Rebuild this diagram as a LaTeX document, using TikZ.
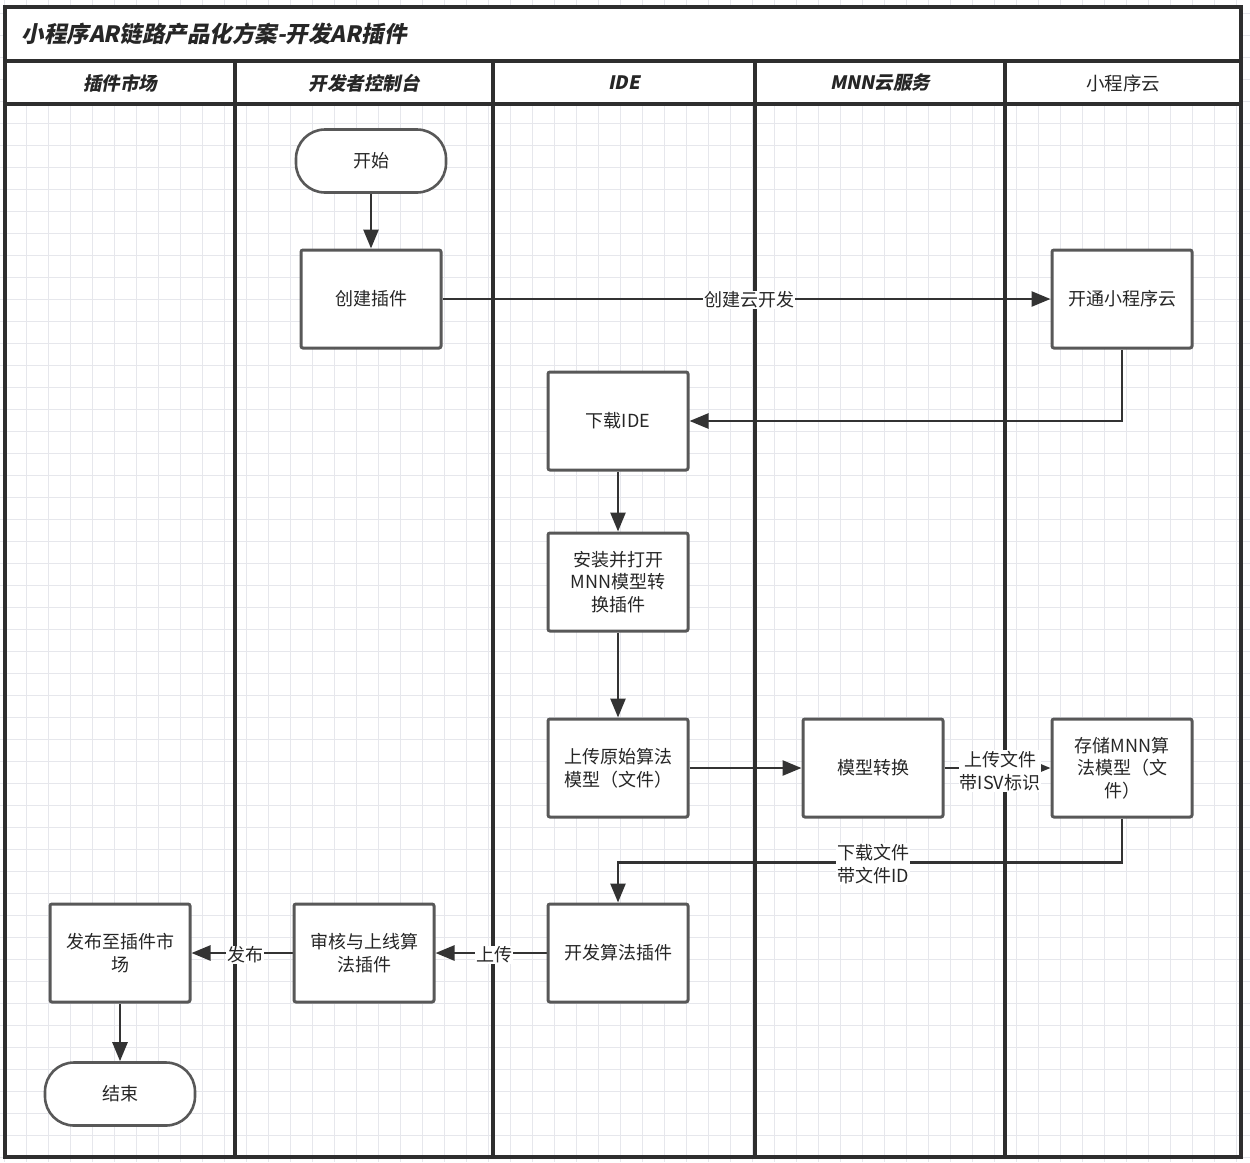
\documentclass[tikz,border=0pt]{standalone}
\usepackage{fontspec}
\setmainfont{Noto Sans CJK SC}
\newfontfamily\headfont[FakeSlant=0.2]{Noto Sans CJK SC}
\usetikzlibrary{arrows.meta}
\pgfdeclarelayer{gridlayer}
\pgfdeclarelayer{connlayer}
\pgfdeclarelayer{lanelayer}
\pgfsetlayers{gridlayer,connlayer,lanelayer,main}
\definecolor{gridc}{HTML}{E6E7EC}
\definecolor{lanec}{HTML}{2E2E2E}
\definecolor{boxc}{HTML}{585858}
\definecolor{connc}{HTML}{333333}
\tikzset{
  gridline/.style={draw=gridc,line width=1.3pt},
  laneline/.style={draw=lanec,line width=3.2pt},
  procbox/.style={draw=boxc,line width=3pt,fill=white,rounded corners=2pt,minimum width=140pt,minimum height=98pt,align=center,inner sep=2pt,font=\fontsize{18}{22.5}\selectfont,text=black!85},
  termbox/.style={draw=boxc,line width=2.6pt,fill=white,rounded corners=29pt,minimum width=150pt,minimum height=63pt,align=center,font=\fontsize{18}{22.5}\selectfont,text=black!85},
  conn/.style={draw=connc,line width=2.6pt,-{Triangle[length=19pt,width=15pt]}},
  lbl/.style={fill=white,inner sep=1pt,align=center,font=\fontsize{18}{22.5}\selectfont,text=black!85},
  headtxt/.style={font=\headfont\bfseries\fontsize{18.5}{22}\selectfont,text=black!85},
}
\begin{document}
\begin{tikzpicture}[x=1pt,y=-1pt]
\useasboundingbox (0,0) rectangle (1250,1162);
\begin{pgfonlayer}{gridlayer}
\fill[white] (0,0) rectangle (1250,1162);
\foreach \gx in {4.7,26.7,...,1250} \draw[gridline] (\gx,0) -- (\gx,1162);
\foreach \gy in {13.7,35.7,...,1162} \draw[gridline] (0,\gy) -- (1250,\gy);
\fill[white] (5,7) rectangle (1241,104);
\end{pgfonlayer}
\begin{pgfonlayer}{lanelayer}
\draw[laneline] (5,7) rectangle (1241,1157);
\draw[laneline] (5,61) -- (1241,61);
\draw[laneline] (5,104) -- (1241,104);
\foreach \lx in {235,493,755,1005} \draw[laneline] (\lx,61) -- (\lx,1157);
\end{pgfonlayer}
% title
\node[anchor=west,font=\headfont\bfseries\fontsize{22.5}{26}\selectfont,text=black!85] (title) at (18,34) {小程序AR链路产品化方案-开发AR插件};
% lane headers
\node[headtxt] (h1) at (120,83) {插件市场};
\node[headtxt] (h2) at (364,83) {开发者控制台};
\node[headtxt] (h3) at (624,83) {IDE};
\node[headtxt] (h4) at (880,83) {MNN云服务};
\node[font=\fontsize{18.5}{22}\selectfont,text=black!85] (h5) at (1123,83) {小程序云};
% nodes
\node[termbox] (start) at (371,161) {开始};
\node[procbox] (create) at (371,299) {创建插件};
\node[procbox] (open) at (1122,299) {开通小程序云};
\node[procbox] (dlide) at (618,421) {下载IDE};
\node[procbox] (install) at (618,582) {安装并打开\\MNN模型转\\换插件};
\node[procbox] (upload) at (618,768) {上传原始算法\\模型（文件）};
\node[procbox] (convert) at (873,768) {模型转换};
\node[procbox] (store) at (1122,768) {存储MNN算\\法模型（文\\件）};
\node[procbox] (dev) at (618,953) {开发算法插件};
\node[procbox] (review) at (364,953) {审核与上线算\\法插件};
\node[procbox] (publish) at (120,953) {发布至插件市\\场};
\node[termbox] (end) at (120,1094) {结束};
% connectors
\begin{pgfonlayer}{connlayer}
\draw[conn] (start) -- (create);
\draw[conn] (create) -- (open);
\draw[conn] (open.south) |- (dlide.east);
\draw[conn] (dlide) -- (install);
\draw[conn] (install) -- (upload);
\draw[conn] (upload) -- (convert);
\draw[conn] (convert) -- (store);
\draw[conn] (store.south) -- ++(0,44) coordinate (bend1) -| (dev.north);
\draw[conn] (dev) -- (review);
\draw[conn] (review) -- (publish);
\draw[conn] (publish) -- (end);
\end{pgfonlayer}
% labels
\node[lbl] (l1) at (749,300) {创建云开发};
\node[lbl] (l2) at (1000,771) {上传文件\\带ISV标识};
\node[lbl] (l3) at (873,864) {下载文件\\带文件ID};
\node[lbl] (l4) at (494,955) {上传};
\node[lbl] (l5) at (245,955) {发布};
\end{tikzpicture}
\end{document}
